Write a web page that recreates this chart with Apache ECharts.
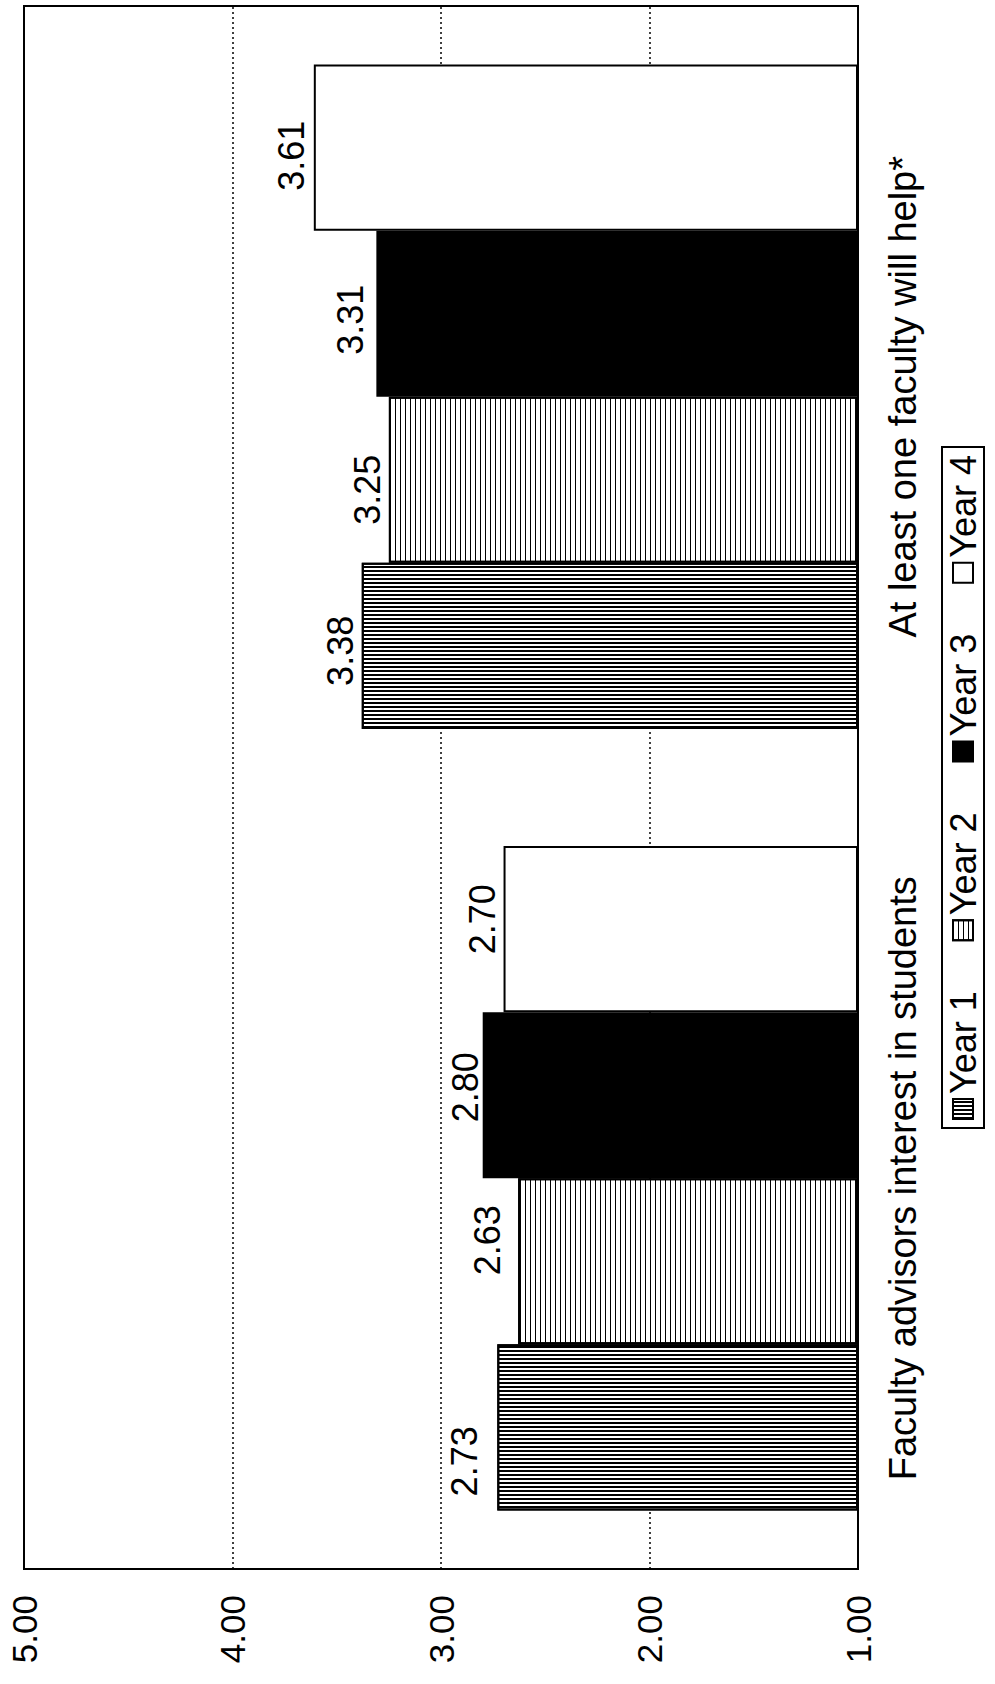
<!DOCTYPE html>
<html>
<head>
<meta charset="utf-8">
<script src="https://cdn.jsdelivr.net/npm/echarts@6/dist/echarts.min.js"></script>
<style>
  html, body { margin: 0; padding: 0; background: #fff; overflow: hidden; }
  #page { position: absolute; left: 0; top: 0; width: 995px; height: 1684px; overflow: hidden; background: #fff; }
  /* the chart is laid out landscape and turned a quarter turn counter-clockwise onto the portrait page */
  #chart { position: absolute; left: 0; top: 0; width: 1684px; height: 995px;
           transform-origin: 0 0; transform: translateY(1684px) rotate(-90deg); }
</style>
</head>
<body>
<div id="page"><div id="chart"></div></div>
<script>
// ---- data ----
const categories = ['Faculty advisors interest in students', 'At least one faculty will help*'];
const seriesNames = ['Year 1', 'Year 2', 'Year 3', 'Year 4'];
const year1 = [2.73, 3.38];
const year2 = [2.63, 3.25];
const year3 = [2.80, 3.31];
const year4 = [2.70, 3.61];
const valueAxisMin = 1;
const valueAxisMax = 5;
const valueAxisStep = 1;

// ---- styling ----
const FONT = 'Liberation Sans, Arial, sans-serif';
const seriesValues = [year1, year2, year3, year4];

// hatch fills: Year 1 fine dark stripes, Year 2 lighter cross stripes
const decals = [
  { symbol: 'rect', symbolSize: 1, dashArrayX: [2, 2], dashArrayY: [1, 0], color: '#000', backgroundColor: '#fff' },
  { symbol: 'rect', symbolSize: 1, dashArrayX: [1, 0], dashArrayY: [1, 4], color: '#000', backgroundColor: '#fff' },
  null,
  null
];
const fills = ['#ffffff', '#ffffff', '#000000', '#ffffff'];
// hand-placed value labels: [dx, dy] nudges per category
const labelShift = [
  [[-34, -15], [-5, -3]],
  [[21, -13], [-10, -3]],
  [[8, 1], [-6, -8]],
  [[10, -3], [-8, -4]]
];

const chart = echarts.init(document.getElementById('chart'), null, { renderer: 'svg' });

const option = {
  backgroundColor: '#ffffff',
  animation: false,
  textStyle: { fontFamily: FONT, color: '#000' },
  grid: {
    left: 115, right: 6, top: 24, bottom: 137,
    show: true, borderColor: '#000', borderWidth: 2, backgroundColor: 'transparent',
    containLabel: false
  },
  legend: {
    show: true,
    selectedMode: false,
    orient: 'horizontal',
    left: 556,
    top: 942,
    icon: 'rect',
    itemWidth: 20,
    itemHeight: 20,
    itemGap: 50,
    padding: [3, 8],
    borderColor: '#000',
    borderWidth: 2,
    backgroundColor: '#fff',
    textStyle: { fontFamily: FONT, fontSize: 36, color: '#000', padding: [0, 0, 0, 0] },
    data: seriesNames
  },
  xAxis: {
    type: 'category',
    data: categories,
    axisLine: { show: true, lineStyle: { color: '#000', width: 2 } },
    axisTick: { show: false },
    axisLabel: { interval: 0, margin: 26, fontFamily: FONT, fontSize: 38, color: '#000' },
    splitLine: { show: false }
  },
  yAxis: {
    type: 'value',
    min: valueAxisMin,
    max: valueAxisMax,
    interval: valueAxisStep,
    startValue: valueAxisMin,
    axisLine: { show: true, lineStyle: { color: '#000', width: 2 } },
    axisTick: { show: false },
    axisLabel: {
      margin: 26, fontFamily: FONT, fontSize: 35, color: '#000',
      formatter: v => v.toFixed(2)
    },
    splitLine: { show: true, lineStyle: { color: '#000', width: 1.5, type: [2, 3] } }
  },
  series: seriesValues.map((vals, si) => ({
    name: seriesNames[si],
    type: 'bar',
    barGap: '0%',
    barCategoryGap: '15%',
    itemStyle: Object.assign(
      { color: fills[si], borderColor: '#000', borderWidth: 2 },
      decals[si] ? { decal: decals[si] } : {}
    ),
    label: {
      show: true,
      position: 'top',
      distance: 0,
      fontFamily: FONT,
      fontSize: 36,
      lineHeight: 36,
      color: '#000',
      formatter: p => Number(p.value).toFixed(2)
    },
    data: vals.map((v, ci) => ({ value: v, label: { offset: labelShift[si][ci] } }))
  }))
};

chart.setOption(option);
</script>
</body>
</html>
